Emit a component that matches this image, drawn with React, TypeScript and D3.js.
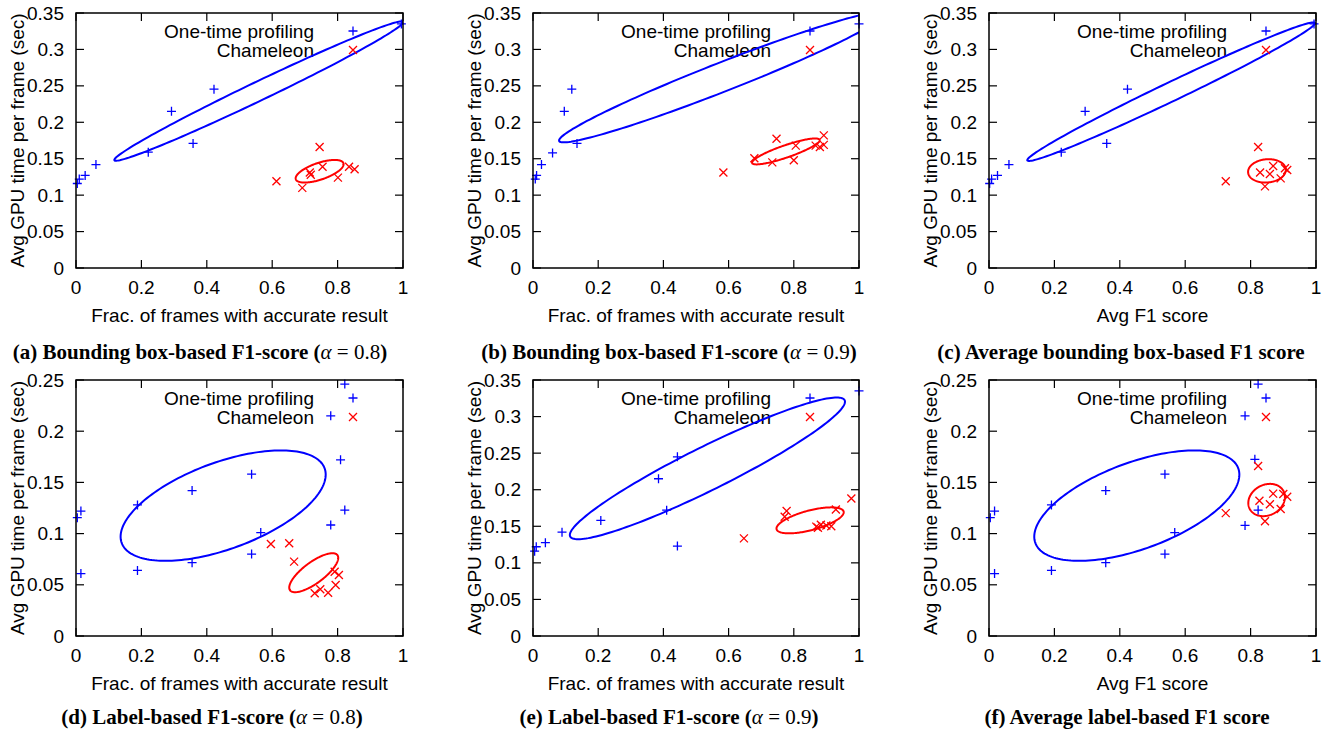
import React from "react";
import * as d3 from "d3";

// points: [x, y]
// (a) bounding box-based F1, alpha = 0.8
const profA = [[0.995, 0.335], [0.422, 0.2455], [0.292, 0.215], [0.358, 0.171], [0.221, 0.159], [0.061, 0.142], [0.028, 0.127], [0.01, 0.122], [0.004, 0.116]];
const chamA = [[0.745, 0.166], [0.754, 0.139], [0.715, 0.131], [0.718, 0.128], [0.801, 0.124], [0.835, 0.139], [0.852, 0.1355], [0.613, 0.119], [0.692, 0.11]];
// (b) bounding box-based F1, alpha = 0.9
const profB = [[1.0, 0.335], [0.119, 0.2455], [0.096, 0.215], [0.135, 0.171], [0.06, 0.158], [0.026, 0.142], [0.011, 0.127], [0.007, 0.122]];
const chamB = [[0.584, 0.131], [0.679, 0.1506], [0.734, 0.145], [0.747, 0.1775], [0.806, 0.168], [0.8, 0.148], [0.867, 0.168], [0.892, 0.182], [0.892, 0.169], [0.88, 0.166]];
// (c) average bounding box-based F1
const profC = [[0.994, 0.335], [0.4235, 0.2455], [0.294, 0.215], [0.36, 0.171], [0.221, 0.159], [0.061, 0.142], [0.026, 0.127], [0.008, 0.122], [0.002, 0.116]];
const chamC = [[0.823, 0.166], [0.724, 0.119], [0.829, 0.131], [0.859, 0.129], [0.869, 0.14], [0.905, 0.137], [0.912, 0.1346], [0.892, 0.123], [0.844, 0.112]];
// (d) label-based F1, alpha = 0.8
const profD = [[0.822, 0.246], [0.779, 0.215], [0.809, 0.172], [0.822, 0.123], [0.779, 0.1084], [0.537, 0.158], [0.355, 0.142], [0.188, 0.128], [0.565, 0.101], [0.537, 0.08], [0.355, 0.0716], [0.188, 0.064], [0.015, 0.061], [0.015, 0.122], [0.004, 0.1156]];
const chamD = [[0.596, 0.0898], [0.652, 0.0905], [0.667, 0.0726], [0.791, 0.0628], [0.804, 0.0596], [0.794, 0.0498], [0.73, 0.0417], [0.747, 0.0456], [0.771, 0.0423]];
// (e) label-based F1, alpha = 0.9
const profE = [[1.0, 0.335], [0.443, 0.245], [0.385, 0.215], [0.41, 0.172], [0.208, 0.158], [0.089, 0.142], [0.038, 0.1276], [0.01, 0.122], [0.005, 0.116], [0.443, 0.123]];
const chamE = [[0.9765, 0.188], [0.778, 0.171], [0.772, 0.163], [0.929, 0.173], [0.647, 0.1335], [0.869, 0.1495], [0.883, 0.152], [0.9, 0.151], [0.915, 0.15], [0.874, 0.148]];
// (f) average label-based F1
const profF = [[0.823, 0.246], [0.783, 0.215], [0.813, 0.1725], [0.823, 0.123], [0.783, 0.108], [0.538, 0.158], [0.357, 0.142], [0.191, 0.128], [0.568, 0.101], [0.538, 0.08], [0.357, 0.0716], [0.191, 0.064], [0.017, 0.061], [0.017, 0.122], [0.004, 0.1156]];
const chamF = [[0.823, 0.166], [0.724, 0.12], [0.827, 0.132], [0.859, 0.1286], [0.869, 0.139], [0.9, 0.1387], [0.912, 0.136], [0.892, 0.124], [0.844, 0.112]];

// ellipses: [cx, cy, ux, uy, vx, vy] in data units, point = c + u cos t + v sin t
const ellProf = [
  [0.5586, 0.2428, 0.4414, 0.0945, 0, 0.0144],
  [0.58, 0.262, 0.5, 0.087, 0, 0.0213],
  [0.557, 0.242, 0.44, 0.094, 0, 0.0144],
  [0.45, 0.1273, 0.3136, 0.0303, 0, 0.0446],
  [0.535, 0.2292, 0.422, 0.0911, 0, 0.033],
  [0.452, 0.1273, 0.3136, 0.0303, 0, 0.0446],
];
const ellCham = [
  [0.745, 0.1328, 0.0733, 0.0097, 0, 0.0121],
  [0.7755, 0.16, 0.1036, 0.0154, 0, 0.0089],
  [0.85, 0.1333, 0.0577, 0.0014, 0, 0.016],
  [0.727, 0.0618, 0.0749, 0.01452, 0, 0.01233],
  [0.85, 0.1581, 0.1031, 0.01112, 0, 0.01385],
  [0.849, 0.1328, 0.056, 0.0029, 0, 0.0155],
];

const xTicks = [0, 0.2, 0.4, 0.6, 0.8, 1];
const xTickLabels = ["0", "0.2", "0.4", "0.6", "0.8", "1"];
const yTicks35 = [0, 0.05, 0.1, 0.15, 0.2, 0.25, 0.3, 0.35];
const yTickLabels35 = ["0", "0.05", "0.1", "0.15", "0.2", "0.25", "0.3", "0.35"];
const yTicks25 = [0, 0.05, 0.1, 0.15, 0.2, 0.25];
const yTickLabels25 = ["0", "0.05", "0.1", "0.15", "0.2", "0.25"];

const xLabels = ["Frac. of frames with accurate result", "Frac. of frames with accurate result", "Avg F1 score", "Frac. of frames with accurate result", "Frac. of frames with accurate result", "Avg F1 score"];
const captions = ["(a) Bounding box-based F1-score", "(b) Bounding box-based F1-score", "(c) Average bounding box-based F1 score", "(d) Label-based F1-score", "(e) Label-based F1-score", "(f) Average label-based F1 score"];
const alphas = ["0.8", "0.9", null, "0.8", "0.9", null];

const yLabel = "Avg GPU time per frame (sec)";
const legendNames = ["One-time profiling", "Chameleon"];

const BLUE = "#0000ff";
const RED = "#ff0000";
const SANS = "'Liberation Sans', Arial, Helvetica, sans-serif";
const SERIF = "'Liberation Serif', 'Times New Roman', serif";

const plus = (px, py, s = 4.5) => `M${px - s},${py}H${px + s}M${px},${py - s}V${py + s}`;
const cross = (px, py, s = 4) => `M${px - s},${py - s}L${px + s},${py + s}M${px - s},${py + s}L${px + s},${py - s}`;

function Panel({ idx, left, top, width, height, yMax, yTicks, yTickLabels, prof, cham, capX, capY }) {
  const x = d3.scaleLinear().domain([0, 1]).range([left, left + width]);
  const y = d3.scaleLinear().domain([0, yMax]).range([top + height, top]);
  const bottom = top + height;
  const right = left + width;
  const tickLen = 8;

  const ts = d3.range(0, 361, 2).map((d) => (d * Math.PI) / 180);
  const ellPath = (e) => {
    const [cx, cy, ux, uy, vx, vy] = e;
    return d3.line()(ts.map((t) => [x(cx + ux * Math.cos(t) + vx * Math.sin(t)), y(cy + uy * Math.cos(t) + vy * Math.sin(t))])) + "Z";
  };

  const clipId = `clip${idx}`;
  const legX = left + 238;
  const sampleX = left + 277;

  return (
    <g>
      <defs>
        <clipPath id={clipId}>
          <rect x={left} y={top} width={width} height={height} />
        </clipPath>
      </defs>

      {/* ticks, mirrored on all sides */}
      <g stroke="#000" strokeWidth={1.2}>
        {xTicks.map((t) => (
          <g key={"xt" + t}>
            <line x1={x(t)} x2={x(t)} y1={bottom} y2={bottom - tickLen} />
            <line x1={x(t)} x2={x(t)} y1={top} y2={top + tickLen} />
          </g>
        ))}
        {yTicks.map((t) => (
          <g key={"yt" + t}>
            <line x1={left} x2={left + tickLen} y1={y(t)} y2={y(t)} />
            <line x1={right} x2={right - tickLen} y1={y(t)} y2={y(t)} />
          </g>
        ))}
      </g>

      <g fontFamily={SANS} fontSize={19} fill="#000">
        {xTicks.map((t, i) => (
          <text key={"xl" + t} x={x(t)} y={bottom + 26} textAnchor="middle">{xTickLabels[i]}</text>
        ))}
        {yTicks.map((t, i) => (
          <text key={"yl" + t} x={left - 12} y={y(t)} textAnchor="end" dominantBaseline="central">{yTickLabels[i]}</text>
        ))}
        <text x={(left + right) / 2} y={bottom + 54} textAnchor="middle">{xLabels[idx]}</text>
        <text transform={`translate(${left - 59},${(top + bottom) / 2}) rotate(-90)`} textAnchor="middle" dominantBaseline="central">{yLabel}</text>
        <text x={legX} y={top + 18} textAnchor="end" dominantBaseline="central">{legendNames[0]}</text>
        <text x={legX} y={top + 37} textAnchor="end" dominantBaseline="central">{legendNames[1]}</text>
      </g>

      <g clipPath={`url(#${clipId})`} fill="none" strokeWidth={2}>
        <path d={ellPath(ellProf[idx])} stroke={BLUE} />
        <path d={ellPath(ellCham[idx])} stroke={RED} />
      </g>

      <g fill="none" strokeWidth={1.3}>
        {prof.map((p, i) => (
          <path key={"p" + i} d={plus(x(p[0]), y(p[1]))} stroke={BLUE} />
        ))}
        {cham.map((p, i) => (
          <path key={"c" + i} d={cross(x(p[0]), y(p[1]))} stroke={RED} />
        ))}
        <path d={plus(sampleX, top + 18)} stroke={BLUE} />
        <path d={cross(sampleX, top + 37)} stroke={RED} />
      </g>

      <rect x={left} y={top} width={width} height={height} fill="none" stroke="#000" strokeWidth={1.5} />

      <text x={capX} y={capY} textAnchor="middle" fontFamily={SERIF} fontWeight="bold" fontSize={21} fill="#000">
        {captions[idx]}
        {alphas[idx] && (
          <>
            {" ("}
            <tspan fontStyle="italic" fontWeight="normal">α</tspan>
            <tspan fontWeight="normal">{" = " + alphas[idx]}</tspan>
            {")"}
          </>
        )}
      </text>
    </g>
  );
}

export default function App() {
  const cols = [
    { left: 76, width: 327 },
    { left: 533, width: 326 },
    { left: 989, width: 327 },
  ];
  const rows = [
    { top: 13, height: 255, capY: 359 },
    { top: 380, height: 256, capY: 724 },
  ];
  const capXs = [200, 669, 1121, 212, 669, 1127];
  const profs = [profA, profB, profC, profD, profE, profF];
  const chams = [chamA, chamB, chamC, chamD, chamE, chamF];
  const yMaxes = [0.35, 0.35, 0.35, 0.25, 0.35, 0.25];

  return (
    <svg width={1331} height={734} style={{ position: "absolute", left: 0, top: 0, background: "#fff" }}>
      <rect width={1331} height={734} fill="#fff" />
      {profs.map((p, i) => {
        const c = cols[i % 3];
        const r = rows[Math.floor(i / 3)];
        const big = yMaxes[i] === 0.35;
        return (
          <Panel
            key={i}
            idx={i}
            left={c.left}
            width={c.width}
            top={r.top}
            height={r.height}
            yMax={yMaxes[i]}
            yTicks={big ? yTicks35 : yTicks25}
            yTickLabels={big ? yTickLabels35 : yTickLabels25}
            prof={p}
            cham={chams[i]}
            capX={capXs[i]}
            capY={r.capY}
          />
        );
      })}
    </svg>
  );
}
